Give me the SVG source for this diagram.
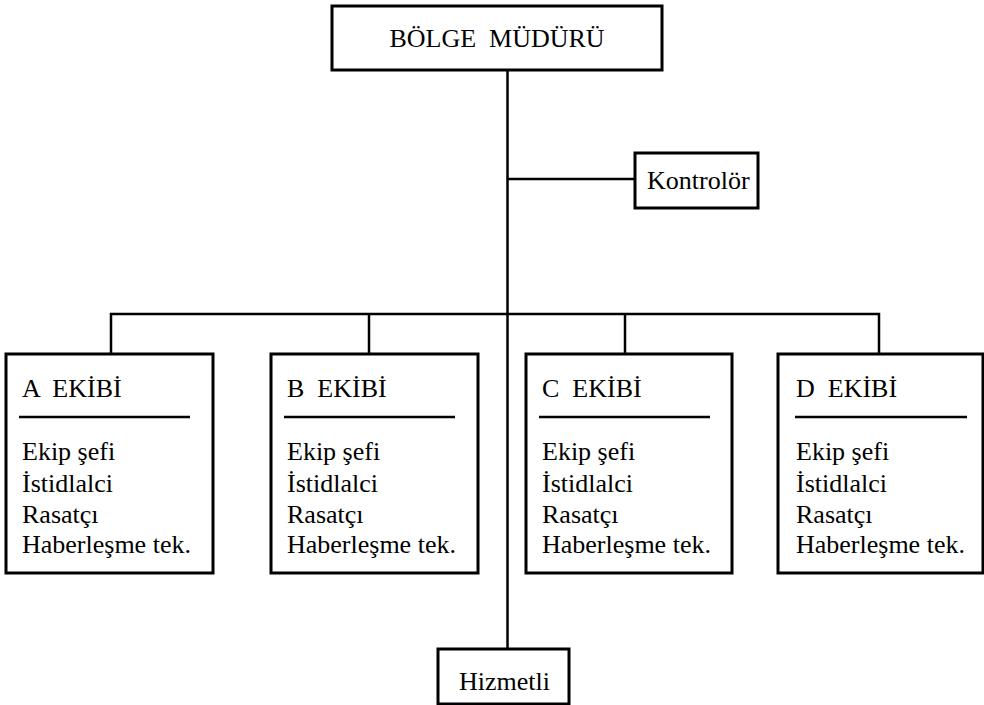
<svg xmlns="http://www.w3.org/2000/svg" width="984" height="705" viewBox="0 0 984 705">
  <style>
    .box { fill: #fff; stroke: #000; stroke-width: 3; }
    .wire { fill: none; stroke: #000; stroke-width: 2.5; }
    .rule { stroke: #000; stroke-width: 2.5; }
    .lbl { font-family: 'Liberation Serif', 'Times New Roman', 'DejaVu Serif', serif; font-size: 26px; fill: #000; white-space: pre; }
  </style>
  <rect width="984" height="705" fill="#fff"/>

  <!-- connectors -->
  <g id="connectors">
    <path class="wire" d="M507.5 70 V649"/>
    <path class="wire" d="M507.5 179 H635"/>
    <path class="wire" d="M111 354 V314 H879 V354"/>
    <path class="wire" d="M369 314 V354"/>
    <path class="wire" d="M625 314 V354"/>
  </g>

  <g id="bolge-muduru">
    <rect class="box" x="332" y="6" width="330" height="64"/>
    <text class="lbl" x="497" y="47" text-anchor="middle">BÖLGE  MÜDÜRÜ</text>
  </g>

  <g id="kontrolor">
    <rect class="box" x="635" y="153" width="123" height="55"/>
    <text class="lbl" x="647" y="189">Kontrolör</text>
  </g>

  <g id="a-ekibi">
    <rect class="box" x="6" y="354" width="207" height="219"/>
    <text class="lbl" x="22" y="397">A  EKİBİ</text>
    <line class="rule" x1="19" y1="417" x2="190" y2="417"/>
    <text class="lbl" x="22" y="460">Ekip şefi</text>
    <text class="lbl" x="22" y="492">İstidlalci</text>
    <text class="lbl" x="22" y="523">Rasatçı</text>
    <text class="lbl" x="22" y="553">Haberleşme tek.</text>
  </g>

  <g id="b-ekibi">
    <rect class="box" x="271" y="354" width="207" height="219"/>
    <text class="lbl" x="287" y="397">B  EKİBİ</text>
    <line class="rule" x1="284" y1="417" x2="455" y2="417"/>
    <text class="lbl" x="287" y="460">Ekip şefi</text>
    <text class="lbl" x="287" y="492">İstidlalci</text>
    <text class="lbl" x="287" y="523">Rasatçı</text>
    <text class="lbl" x="287" y="553">Haberleşme tek.</text>
  </g>

  <g id="c-ekibi">
    <rect class="box" x="526" y="354" width="206" height="219"/>
    <text class="lbl" x="542" y="397">C  EKİBİ</text>
    <line class="rule" x1="539" y1="417" x2="710" y2="417"/>
    <text class="lbl" x="542" y="460">Ekip şefi</text>
    <text class="lbl" x="542" y="492">İstidlalci</text>
    <text class="lbl" x="542" y="523">Rasatçı</text>
    <text class="lbl" x="542" y="553">Haberleşme tek.</text>
  </g>

  <g id="d-ekibi">
    <rect class="box" x="778" y="354" width="205" height="219"/>
    <text class="lbl" x="796" y="397">D  EKİBİ</text>
    <line class="rule" x1="795" y1="417" x2="967" y2="417"/>
    <text class="lbl" x="796" y="460">Ekip şefi</text>
    <text class="lbl" x="796" y="492">İstidlalci</text>
    <text class="lbl" x="796" y="523">Rasatçı</text>
    <text class="lbl" x="796" y="553">Haberleşme tek.</text>
  </g>

  <g id="hizmetli">
    <rect class="box" x="438" y="649" width="131" height="55"/>
    <text class="lbl" x="459" y="690">Hizmetli</text>
  </g>
</svg>
